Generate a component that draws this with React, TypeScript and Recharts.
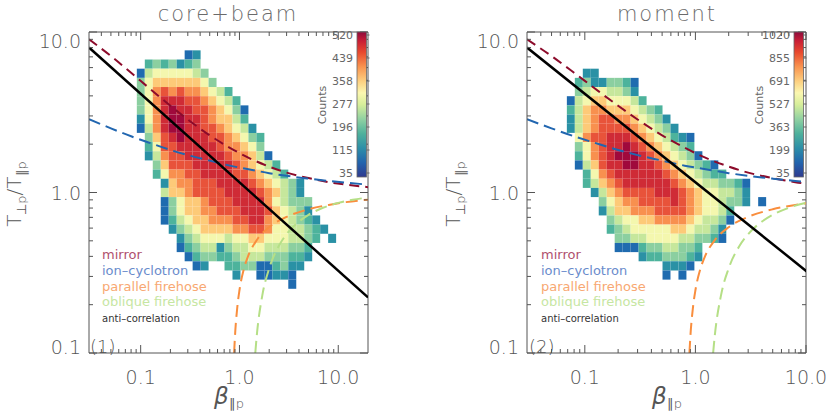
import React from 'react';
import { ComposedChart, XAxis, YAxis, Line, ReferenceArea, ReferenceLine } from 'recharts';

// histogram colour levels, 0 = fewest counts ... 11 = most counts
const levelColors = [
  '#2e3f94', '#1f6baf', '#2a91a5', '#4db39c', '#8bcfa0', '#c6e79c',
  '#f4f7ae', '#fdca78', '#f8904f', '#e8533a', '#cf2b36', '#a0093c',
];

// [row from top, first column, levels (hex digit per bin, '.' = empty)]
const coreBeamRows: [number, number, string][] = [
  [2, 12, '12'],
  [3, 7, '3434234'],
  [4, 6, '156666654'],
  [5, 6, '4677777764'],
  [6, 6, '468989887653'],
  [7, 6, '468aaa9987653'],
  [8, 6, '468abaa9987641'],
  [9, 6, '268abbaa987753'],
  [10, 6, '158abbaa9987652'],
  [11, 7, '479abaaa9987643'],
  [12, 7, '3699aaaaa988764'],
  [13, 7, '25899aaaaa988751'],
  [14, 8, '47999aaaaa987653'],
  [15, 8, '368899aaaa9987653'],
  [16, 9, '2788999aaaa9876542'],
  [17, 9, '57789999aaaa987542'],
  [18, 9, '146778999aaaa865444'],
  [19, 9, '1467788999aaa976542'],
  [20, 9, '13567788899aa8765432'],
  [21, 10, '24567777889986655432'],
  [22, 11, '245666566776665543.2'],
  [23, 11, '13455245566555443'],
  [24, 12, '1344334555444332'],
  [25, 13, '12..3344113422'],
  [26, 18, '2..11221'],
  [27, 25, '1'],
];

const momentRows: [number, number, string][] = [
  [4, 7, '22'],
  [5, 6, '34224431'],
  [6, 6, '45665542'],
  [7, 5, '1567766653'],
  [8, 5, '357887776543'],
  [9, 5, '2578998876542'],
  [10, 5, '25789999876542'],
  [11, 6, '6899aaa98765321'],
  [12, 6, '4689aaba9876543'],
  [13, 6, '3689abbba9876541'],
  [14, 6, '1579aabbaa98765431'],
  [15, 7, '3689aaaaaa98765433'],
  [16, 7, '35789aaaaaa9876554431'],
  [17, 8, '25789999aaa987665542'],
  [18, 9, '467889999a987665442.1'],
  [19, 9, '25778889999876653'],
  [20, 10, '4566778888765541'],
  [21, 10, '345666667765542'],
  [22, 11, '44556666554431'],
  [23, 11, '11134455443'],
  [24, 14, '23344432'],
  [25, 17, '2221'],
  [26, 17, '1.1'],
];

const coreBeamBarLabels = ['520', '439', '358', '277', '196', '115', '35'];
const momentBarLabels = ['1020', '855', '691', '527', '363', '199', '35'];

// instability thresholds and anti-correlation fit, (beta, T_perp/T_par)
const mirror = [
  { x: 0.03, y: 9.0 }, { x: 0.05, y: 7.08 }, { x: 0.08, y: 5.57 }, { x: 0.12, y: 4.51 },
  { x: 0.2, y: 3.47 }, { x: 0.3, y: 2.85 }, { x: 0.5, y: 2.27 }, { x: 0.8, y: 1.9 },
  { x: 1.2, y: 1.66 }, { x: 2, y: 1.45 }, { x: 3, y: 1.33 }, { x: 5, y: 1.23 },
  { x: 8, y: 1.16 }, { x: 12, y: 1.12 }, { x: 20, y: 1.08 },
];
const ionCyclotron = [
  { x: 0.03, y: 2.86 }, { x: 0.05, y: 2.51 }, { x: 0.08, y: 2.24 }, { x: 0.12, y: 2.05 },
  { x: 0.2, y: 1.84 }, { x: 0.3, y: 1.71 }, { x: 0.5, y: 1.58 }, { x: 0.8, y: 1.47 },
  { x: 1.2, y: 1.4 }, { x: 2, y: 1.32 }, { x: 3, y: 1.27 }, { x: 5, y: 1.22 },
  { x: 8, y: 1.18 }, { x: 12, y: 1.15 }, { x: 20, y: 1.12 },
];
const parallelFirehose = [
  { x: 0.883, y: 0.1 }, { x: 0.9, y: 0.126 }, { x: 0.95, y: 0.192 }, { x: 1.0, y: 0.246 },
  { x: 1.1, y: 0.328 }, { x: 1.2, y: 0.389 }, { x: 1.5, y: 0.506 }, { x: 2, y: 0.608 },
  { x: 3, y: 0.705 }, { x: 5, y: 0.786 }, { x: 8, y: 0.837 }, { x: 12, y: 0.871 },
  { x: 20, y: 0.902 },
];
const obliqueFirehose = [
  { x: 1.446, y: 0.1 }, { x: 1.5, y: 0.13 }, { x: 1.7, y: 0.227 }, { x: 2, y: 0.337 },
  { x: 2.5, y: 0.464 }, { x: 3, y: 0.55 }, { x: 4, y: 0.659 }, { x: 5, y: 0.726 },
  { x: 7, y: 0.803 }, { x: 10, y: 0.862 }, { x: 14, y: 0.901 }, { x: 20, y: 0.93 },
];
const antiCorrelation = [{ x: 0.03, y: 8.0 }, { x: 20, y: 0.222 }];

const xTicks = [
  0.04, 0.05, 0.06, 0.07, 0.08, 0.09, 0.1, 0.2, 0.3, 0.4, 0.5, 0.6, 0.7, 0.8, 0.9,
  1, 2, 3, 4, 5, 6, 7, 8, 9, 10,
];
const yTicks = [0.1, 0.2, 0.3, 0.4, 0.5, 0.6, 0.7, 0.8, 0.9, 1, 2, 3, 4, 5, 6, 7, 8, 9, 10];
const majorLabels: Record<number, string> = { 0.1: '0.1', 1: '1.0', 10: '10.0' };

const X_MIN = 0.03;
const NBINS = 35;
const PW = 279;
const PH = 321;
const AXIS = '#555';
const FONT = '"DejaVu Sans", sans-serif';

function XTick(props: any) {
  const { x, y, payload } = props;
  const label = majorLabels[payload.value];
  const len = label ? 8 : 4;
  return (
    <g>
      <line x1={x} y1={y} x2={x} y2={y - len} stroke={AXIS} />
      <line x1={x} y1={y - PH} x2={x} y2={y - PH + len} stroke={AXIS} />
      {label && (
        <text x={x} y={y + 31} textAnchor="middle" fontSize={19} fill="#555" fontFamily={FONT} fontWeight={200}>
          {label}
        </text>
      )}
    </g>
  );
}

function YTick(props: any) {
  const { x, y, payload } = props;
  const label = majorLabels[payload.value];
  const len = label ? 8 : 4;
  const dy = payload.value === 10 ? 15.5 : payload.value === 0.1 ? 1 : 7;
  return (
    <g>
      <line x1={x} y1={y} x2={x + len} y2={y} stroke={AXIS} />
      <line x1={x + PW} y1={y} x2={x + PW - len} y2={y} stroke={AXIS} />
      {label && (
        <text x={x - 8} y={y + dy} textAnchor="end" fontSize={19} fill="#555" fontFamily={FONT} fontWeight={200}>
          {label}
        </text>
      )}
    </g>
  );
}

function Panel({ xMax, rows, marginLeft }: { xMax: number; rows: [number, number, string][]; marginLeft: number }) {
  const lx0 = Math.log10(X_MIN);
  const dx = (Math.log10(xMax) - lx0) / NBINS;
  const dy = 2 / NBINS;
  const cells: { x1: number; x2: number; y1: number; y2: number; fill: string }[] = [];
  rows.forEach(([r, c0, levels]) => {
    levels.split('').forEach((ch, i) => {
      if (ch === '.') return;
      const c = c0 + i;
      cells.push({
        x1: Math.pow(10, lx0 + c * dx),
        x2: Math.pow(10, lx0 + (c + 1) * dx),
        y1: Math.pow(10, 1 - (r + 1) * dy),
        y2: Math.pow(10, 1 - r * dy),
        fill: levelColors[parseInt(ch, 16)],
      });
    });
  });

  return (
    <ComposedChart
      width={415}
      height={420}
      margin={{ top: 32, bottom: 66, left: marginLeft - 1, right: 415 - marginLeft - PW }}
    >
      <XAxis
        dataKey="x"
        type="number"
        scale="log"
        domain={[X_MIN, xMax]}
        allowDataOverflow
        ticks={xTicks}
        interval={0}
        tick={(p: any) => <XTick {...p} />}
        tickSize={0}
        tickMargin={0}
        tickLine={false}
        height={1}
        axisLine={{ stroke: AXIS }}
      />
      <YAxis
        type="number"
        scale="log"
        domain={[0.1, 10]}
        allowDataOverflow
        ticks={yTicks}
        interval={0}
        tick={(p: any) => <YTick {...p} />}
        tickSize={0}
        tickMargin={0}
        tickLine={false}
        width={1}
        axisLine={{ stroke: AXIS }}
      />
      {cells.map((c, i) => (
        <ReferenceArea key={i} x1={c.x1} x2={c.x2} y1={c.y1} y2={c.y2} fill={c.fill} fillOpacity={1} stroke="none" />
      ))}
      <ReferenceLine y={10} stroke={AXIS} />
      <ReferenceLine x={xMax} stroke={AXIS} />
      <Line data={mirror} dataKey="y" type="monotone" stroke="#8c0b2b" strokeWidth={2} strokeDasharray="10 6" dot={false} isAnimationActive={false} />
      <Line data={ionCyclotron} dataKey="y" type="monotone" stroke="#2166b0" strokeWidth={2} strokeDasharray="12 6" dot={false} isAnimationActive={false} />
      <Line data={parallelFirehose} dataKey="y" type="monotone" stroke="#f98e3e" strokeWidth={2} strokeDasharray="12 6" dot={false} isAnimationActive={false} />
      <Line data={obliqueFirehose} dataKey="y" type="monotone" stroke="#b5df86" strokeWidth={2} strokeDasharray="12 6" dot={false} isAnimationActive={false} />
      <Line data={antiCorrelation} dataKey="y" type="linear" stroke="#000" strokeWidth={2.5} dot={false} isAnimationActive={false} />
    </ComposedChart>
  );
}

const gradStops = [
  [0, '#2f3a8f'], [0.1, '#2264ad'], [0.2, '#2d8fa8'], [0.3, '#4fb19c'], [0.4, '#91d1a2'],
  [0.5, '#d7ee9a'], [0.58, '#fbf7b0'], [0.66, '#fdd080'], [0.76, '#f99450'], [0.86, '#e8492e'],
  [0.94, '#c81e36'], [1, '#8e0b3c'],
];

function Overlay() {
  const legend = [
    ['mirror', '#b0506e', 13],
    ['ion\u2013cyclotron', '#6a8ccc', 13],
    ['parallel firehose', '#f8a872', 13],
    ['oblique firehose', '#c6e6a2', 13],
    ['anti\u2013correlation', '#333', 10],
  ] as [string, string, number][];
  const legendY = [259, 275, 291, 306, 322];
  const panels = [
    { title: 'core+beam', tx: 228, bar: 357, labels: coreBeamBarLabels, tag: '(1)', ylab: 21, xlab: 214, leg: 102 },
    { title: 'moment', tx: 667, bar: 794, labels: momentBarLabels, tag: '(2)', ylab: 460, xlab: 652, leg: 541 },
  ];
  return (
    <svg width={830} height={420} style={{ position: 'absolute', left: 0, top: 0, pointerEvents: 'none' }} fontFamily={FONT}>
      <defs>
        <linearGradient id="cbar" x1="0" y1="1" x2="0" y2="0">
          {gradStops.map(([o, c]) => (
            <stop key={o as number} offset={o as number} stopColor={c as string} />
          ))}
        </linearGradient>
      </defs>
      {panels.map((p) => (
        <g key={p.title}>
          <text x={p.tx} y={21} textAnchor="middle" fontSize={21} letterSpacing={2} fill="#6a6a6a" fontWeight={200}>
            {p.title}
          </text>
          <text transform={`rotate(-90 ${p.ylab} 194)`} x={p.ylab} y={194} textAnchor="middle" fontSize={20} fill="#555" fontWeight={200}>
            T<tspan fontSize={13} dy={5}>{'\u22A5p'}</tspan>
            <tspan dy={-5} fontSize={20}>/T</tspan>
            <tspan fontSize={13} dy={5}>{'\u2225p'}</tspan>
          </text>
          <text x={p.xlab} y={404} fontSize={23} fill="#555" fontStyle="italic" fontWeight={200}>
            {'\u03B2'}
            <tspan fontSize={13} dy={4} fontStyle="normal">{'\u2225p'}</tspan>
          </text>
          <text x={p.leg - 12} y={353} fontSize={18} fill="#555" fontWeight={200}>
            {p.tag}
          </text>
          {legend.map(([t, c, fs], i) => (
            <text key={t} x={p.leg} y={legendY[i]} fontSize={fs} fill={c}>
              {t}
            </text>
          ))}
          <rect x={p.bar} y={32} width={9.5} height={145} fill="url(#cbar)" stroke="#666" strokeWidth={0.8} />
          {p.labels.map((l, i) => (
            <g key={l}>
              <text x={p.bar - 4} y={35 + i * 23 + 4} textAnchor="end" fontSize={11} fill="#666">
                {l}
              </text>
              <line x1={p.bar + 9.5} x2={p.bar + 12.5} y1={35 + i * 23} y2={35 + i * 23} stroke="#666" />
            </g>
          ))}
          <text transform={`rotate(-90 ${p.bar - 31} 105)`} x={p.bar - 31} y={105} textAnchor="middle" fontSize={11} fill="#666">
            Counts
          </text>
        </g>
      ))}
    </svg>
  );
}

export default function App() {
  return (
    <div style={{ position: 'absolute', left: 0, top: 0, width: 830, height: 420, background: '#fff' }}>
      <div style={{ position: 'absolute', left: 0, top: 0 }}>
        <Panel xMax={20} rows={coreBeamRows} marginLeft={89} />
      </div>
      <div style={{ position: 'absolute', left: 415, top: 0 }}>
        <Panel xMax={10} rows={momentRows} marginLeft={112} />
      </div>
      <Overlay />
    </div>
  );
}
